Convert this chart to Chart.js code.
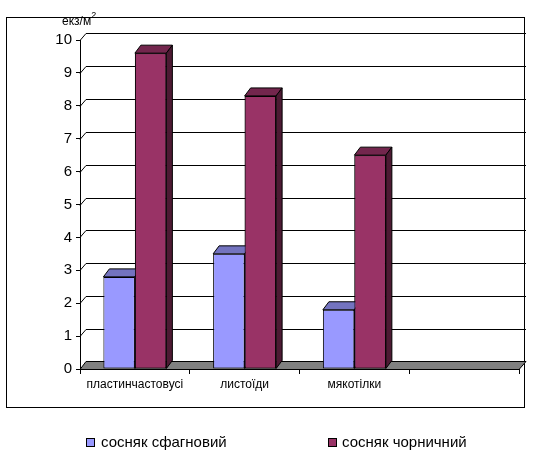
<!DOCTYPE html>
<html><head><meta charset="utf-8">
<script src="https://cdn.jsdelivr.net/npm/chart.js@4/dist/chart.umd.min.js"></script>
<style>html,body{margin:0;padding:0;background:#fff}#wrap{width:548px;height:470px;position:relative}</style>
</head><body><div id="wrap"><canvas id="c" width="548" height="470"></canvas></div>
<script>
const categories = ['пластинчастовусі', 'листоїди', 'мякотілки', ''];
const sphagnumPine = [2.8, 3.5, 1.8, null];
const bilberryPine = [9.6, 8.3, 6.5, null];
const seriesNames = ['сосняк сфагновий', 'сосняк чорничний'];
const yTickValues = [0, 1, 2, 3, 4, 5, 6, 7, 8, 9, 10];
const unitLabel = 'екз/м';
const unitSup = '2';

const FONT = 'Arial, "Liberation Sans", sans-serif';
const colors = ['#9999FF', '#993366'];
const WALL_DX = 6, WALL_DY = 7;
const BAR_DX = 6, BAR_DY = 8;

function shade(hex, f) {
  const n = parseInt(hex.slice(1), 16);
  const r = Math.round(((n >> 16) & 255) * f), g = Math.round(((n >> 8) & 255) * f), b = Math.round((n & 255) * f);
  return 'rgb(' + r + ',' + g + ',' + b + ')';
}

function drawFaces(chart, i) {
  const ctx = chart.ctx;
  const meta = chart.getDatasetMeta(i);
  const col = chart.data.datasets[i].backgroundColor;
  meta.data.forEach((el, j) => {
    if (chart.data.datasets[i].data[j] == null) return;
    const p = el.getProps(['x', 'y', 'base', 'width'], true);
    const l = p.x - p.width / 2, r = p.x + p.width / 2, t = p.y, b = p.base;
    ctx.save();
    ctx.lineWidth = 1; ctx.strokeStyle = '#000'; ctx.lineJoin = 'miter';
    // top
    ctx.beginPath();
    ctx.moveTo(l, t); ctx.lineTo(l + BAR_DX, t - BAR_DY); ctx.lineTo(r + BAR_DX, t - BAR_DY); ctx.lineTo(r, t); ctx.closePath();
    ctx.fillStyle = shade(col, 0.75); ctx.fill(); ctx.stroke();
    // side
    ctx.beginPath();
    ctx.moveTo(r, t); ctx.lineTo(r + BAR_DX, t - BAR_DY); ctx.lineTo(r + BAR_DX, b - BAR_DY); ctx.lineTo(r, b); ctx.closePath();
    ctx.fillStyle = shade(col, 0.5); ctx.fill(); ctx.stroke();
    ctx.restore();
  });
}

const depthPlugin = {
  id: 'depth',
  beforeDraw(chart) {
    const ctx = chart.ctx;
    ctx.save();
    ctx.fillStyle = '#fff'; ctx.fillRect(0, 0, chart.width, chart.height);
    ctx.strokeStyle = '#000'; ctx.lineWidth = 1;
    ctx.strokeRect(6.5, 17.5, 518, 390);
    ctx.restore();
  },
  beforeDatasetsDraw(chart) {
    const ctx = chart.ctx, a = chart.chartArea, ys = chart.scales.y;
    ctx.save();
    ctx.strokeStyle = '#000'; ctx.lineWidth = 1;
    yTickValues.forEach(v => {
      if (v === 0) return;
      const py = Math.round(ys.getPixelForValue(v)) + 0.5;
      ctx.beginPath();
      ctx.moveTo(a.left, py);
      ctx.lineTo(a.left + WALL_DX, py - WALL_DY);
      ctx.lineTo(a.right + WALL_DX + 1, py - WALL_DY);
      ctx.stroke();
    });
    // floor
    const fb = Math.round(ys.getPixelForValue(0)) + 0.5;
    ctx.beginPath();
    ctx.moveTo(a.left, fb);
    ctx.lineTo(a.left + WALL_DX, fb - WALL_DY - 1);
    ctx.lineTo(a.right + WALL_DX + 1, fb - WALL_DY - 1);
    ctx.lineTo(a.right, fb);
    ctx.closePath();
    ctx.fillStyle = '#808080'; ctx.fill(); ctx.stroke();
    ctx.restore();
  },
  afterDatasetsDraw(chart) {
    const n = chart.data.datasets.length;
    for (let i = 0; i < n; i++) {
      drawFaces(chart, i);
      if (i + 1 < n) chart.getDatasetMeta(i + 1).controller.draw();
    }
  },
  afterDraw(chart) {
    const ctx = chart.ctx;
    ctx.save();
    ctx.fillStyle = '#000';
    ctx.textBaseline = 'alphabetic';
    ctx.font = '12px ' + FONT;
    ctx.fillText(unitLabel, 62, 25);
    const w = ctx.measureText(unitLabel).width;
    ctx.font = '9px ' + FONT;
    ctx.fillText(unitSup, 62 + w, 18);
    // legend
    const legendPos = [[86, 101], [328, 342]];
    chart.data.datasets.forEach((ds, i) => {
      const [bx, tx] = legendPos[i];
      ctx.fillStyle = ds.backgroundColor;
      ctx.fillRect(bx, 438, 9, 9);
      ctx.strokeStyle = '#000'; ctx.lineWidth = 1;
      ctx.strokeRect(bx + 0.5, 438.5, 8, 8);
      ctx.fillStyle = '#000';
      ctx.font = '15px ' + FONT;
      ctx.textBaseline = 'middle';
      ctx.fillText(ds.label, tx, 442.5);
    });
    ctx.restore();
  }
};

new Chart(document.getElementById('c'), {
  type: 'bar',
  data: {
    labels: categories,
    datasets: [
      { label: seriesNames[0], data: sphagnumPine, backgroundColor: colors[0], borderColor: '#000', borderWidth: 1, borderSkipped: false },
      { label: seriesNames[1], data: bilberryPine, backgroundColor: colors[1], borderColor: '#000', borderWidth: 1, borderSkipped: false }
    ]
  },
  options: {
    responsive: false, animation: false, devicePixelRatio: 1,
    barPercentage: 1, categoryPercentage: 0.574,
    layout: { padding: { left: 0, top: 40, right: 29, bottom: 0 } },
    plugins: { legend: { display: false }, tooltip: { enabled: false } },
    scales: {
      x: {
        offset: true,
        grid: { display: true, drawOnChartArea: false, drawTicks: true, tickLength: 5, color: '#000', offset: true },
        border: { display: true, color: '#000' },
        ticks: { color: '#000', font: { family: FONT, size: 12 }, padding: 3, maxRotation: 0, autoSkip: false },
        afterFit(s) { s.height = 101; }
      },
      y: {
        min: 0, max: 10,
        afterBuildTicks(s) { s.ticks = yTickValues.map(v => ({ value: v })); },
        ticks: { color: '#000', font: { family: FONT, size: 15 }, padding: 4 },
        grid: { drawOnChartArea: false, tickLength: 4, color: '#000' },
        border: { display: true, color: '#000' },
        afterFit(s) { s.width = 80; }
      }
    }
  },
  plugins: [depthPlugin]
});
</script>
</body></html>
